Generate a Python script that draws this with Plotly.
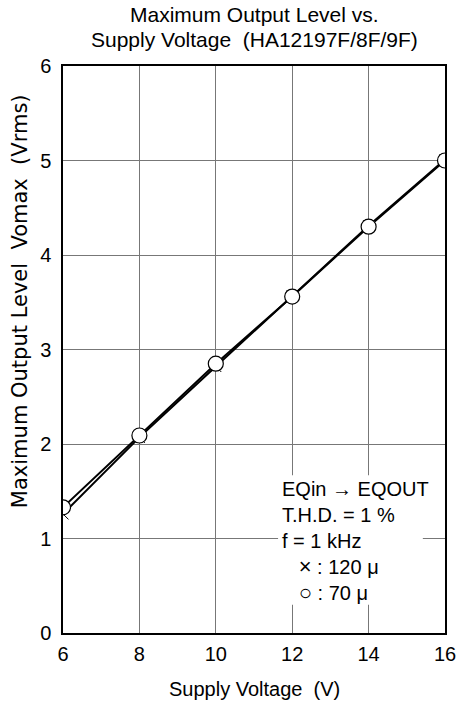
import plotly.graph_objects as go

supply_v = [6, 8, 10, 12, 14, 16]
vomax_120u = [1.26, 2.07, 2.82, 3.57, 4.31, 5.01]
vomax_70u = [1.33, 2.09, 2.85, 3.56, 4.30, 5.00]

x_ticks = [6, 8, 10, 12, 14, 16]
y_ticks = [0, 1, 2, 3, 4, 5, 6]

FONT = "Liberation Sans, Arial, sans-serif"
WIDE = "DejaVu Sans, sans-serif"
BLACK = "black"

fig = go.Figure()

fig.add_trace(
    go.Scatter(
        x=supply_v,
        y=vomax_120u,
        mode="lines+markers",
        name="120 μ",
        line=dict(color=BLACK, width=2),
        marker=dict(symbol="x-thin", size=11, line=dict(color=BLACK, width=1)),
    )
)
fig.add_trace(
    go.Scatter(
        x=supply_v,
        y=vomax_70u,
        mode="lines+markers",
        name="70 μ",
        line=dict(color=BLACK, width=2),
        marker=dict(symbol="circle", size=15, color="white",
                    line=dict(color=BLACK, width=1.2)),
    )
)

# title, two centred lines
fig.add_annotation(x=0.5, y=1.091, xref="paper", yref="paper",
                   text="Maximum Output Level vs.", showarrow=False,
                   font=dict(size=21, family=FONT, color=BLACK),
                   xanchor="center", yanchor="middle")
fig.add_annotation(x=0.5, y=1.047, xref="paper", yref="paper",
                   text="Supply Voltage  (HA12197F/8F/9F)", showarrow=False,
                   font=dict(size=21, family=FONT, color=BLACK),
                   xanchor="center", yanchor="middle")

# axis titles
fig.add_annotation(x=0.5, y=-0.099, xref="paper", yref="paper",
                   text="Supply Voltage  (V)", showarrow=False,
                   font=dict(size=20, family=FONT, color=BLACK),
                   xanchor="center", yanchor="middle")
fig.add_annotation(x=-0.113, y=0.585, xref="paper", yref="paper",
                   text="Maximum Output Level  Vomax  (Vrms)", showarrow=False,
                   textangle=-90,
                   font=dict(size=21, family=WIDE, color=BLACK),
                   xanchor="center", yanchor="middle")

# white box behind the condition notes
fig.add_shape(type="rect", x0=11.63, x1=15.42, y0=0.30, y1=1.67,
              xref="x", yref="y", fillcolor="white", line=dict(width=0),
              layer="above")

notes = (
    "EQin \u2192 EQOUT<br>"
    "T.H.D. = 1 %<br>"
    "f = 1 kHz<br>"
    "   <span style='font-size:22px'>\u00d7</span> : 120 \u03bc<br>"
    "   <span style='font-size:22px'>\u25cb</span> : 70 \u03bc"
)
fig.add_annotation(x=11.68, y=0.97, xref="x", yref="y",
                   text=notes, showarrow=False,
                   font=dict(size=20, family=FONT, color=BLACK),
                   xanchor="left", yanchor="middle", align="left")

fig.update_xaxes(
    range=[6, 16], tickvals=x_ticks, showgrid=True,
    gridcolor="#777777", gridwidth=1,
    showline=True, linecolor=BLACK, linewidth=1.5, mirror=True,
    ticks="", ticklabelstandoff=2,
    tickfont=dict(size=20, family=FONT, color=BLACK),
    zeroline=False,
)
fig.update_yaxes(
    range=[0, 6], tickvals=y_ticks, showgrid=True,
    gridcolor="#777777", gridwidth=1,
    showline=True, linecolor=BLACK, linewidth=1.5, mirror=True,
    ticks="", ticklabelstandoff=6,
    tickfont=dict(size=20, family=FONT, color=BLACK),
    zeroline=False,
)

fig.update_layout(
    width=460,
    height=706,
    margin=dict(l=63, r=15, t=66, b=73, autoexpand=False),
    plot_bgcolor="white",
    paper_bgcolor="white",
    showlegend=False,
    font=dict(family=FONT, color=BLACK),
)

# drop the browser's default body margin so the figure fills the window
fig.write_html(
    "out.html",
    config={"displayModeBar": False},
    post_script="document.body.style.margin='0';",
)
